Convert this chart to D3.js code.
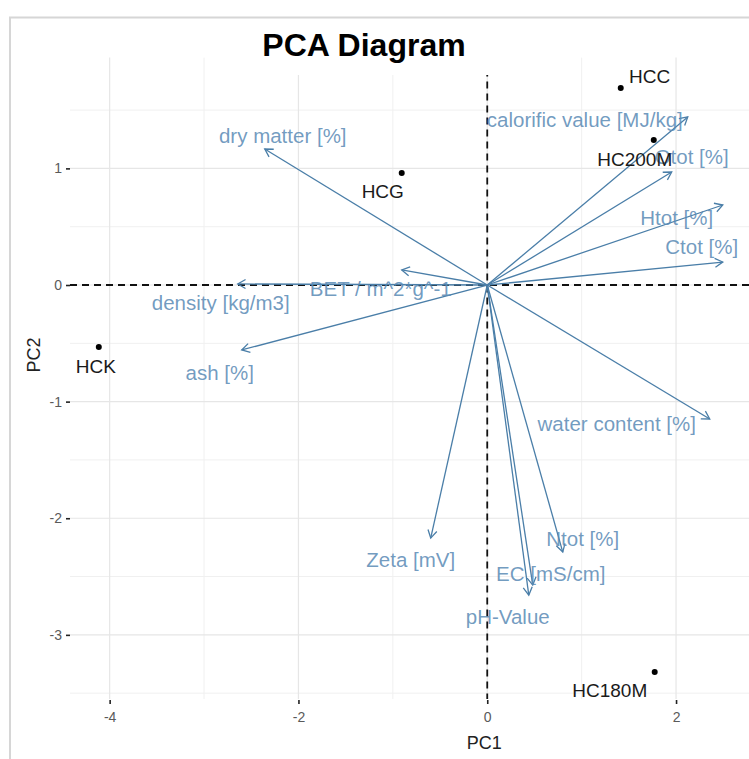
<!DOCTYPE html>
<html>
<head>
<meta charset="utf-8">
<script src="https://cdn.jsdelivr.net/npm/d3@7"></script>
<style>
  html, body { margin: 0; padding: 0; background: #ffffff; }
  svg { display: block; font-family: "Liberation Sans", Arial, sans-serif; }
</style>
</head>
<body>
<svg id="chart" width="749" height="759"></svg>
<script>
// ---- data ----
const sampleNames = ["HCC", "HC200M", "HCG", "HCK", "HC180M"];
const samplePC1 = [1.414, 1.764, -0.906, -4.115, 1.774];
const samplePC2 = [1.690, 1.244, 0.961, -0.532, -3.319];
const sampleLabelPC1 = [1.721, 1.563, -1.107, -4.147, 1.298];
const sampleLabelPC2 = [1.784, 1.072, 0.798, -0.703, -3.473];

const varNames = ["calorific value [MJ/kg]", "Otot [%]", "Htot [%]", "Ctot [%]",
  "water content [%]", "Ntot [%]", "EC [mS/cm]", "pH-Value", "Zeta [mV]",
  "ash [%]", "density [kg/m3]", "BET / m^2*g^-1", "dry matter [%]"];
const varPC1 = [2.124, 1.954, 2.495, 2.495, 2.357, 0.800, 0.482, 0.440, -0.599, -2.601, -2.643, -0.906, -2.357];
const varPC2 = [1.441, 0.969, 0.686, 0.197, -1.149, -2.290, -2.573, -2.659, -2.170, -0.557, 0.009, 0.129, 1.166];
const varLabelPC1 = [1.033, 2.166, 2.007, 2.272, 1.372, 1.012, 0.673, 0.217, -0.810, -2.834, -2.823, -1.128, -2.166];
const varLabelPC2 = [1.415, 1.098, 0.583, 0.326, -1.184, -2.178, -2.470, -2.839, -2.358, -0.746, -0.154, -0.034, 1.286];

const xTicks = [-4, -2, 0, 2];
const xMinor = [-3, -1, 1];
const yTicks = [-3, -2, -1, 0, 1];
const yMinor = [-3.5, -2.5, -1.5, -0.5, 0.5, 1.5];

const titleText = "PCA Diagram";
const xTitle = "PC1";
const yTitle = "PC2";

// ---- layout ----
const svg = d3.select("#chart");
const panel = { left: 70, top: 57.6, bottom: 699 };
const x = d3.scaleLinear().domain([-4.42, 2.9]).range([panel.left, panel.left + 7.32 * 94.4]);
const y = d3.scaleLinear().domain([-3.55, 1.95]).range([panel.bottom, panel.top]);
const panelRight = 760;

// outer frame
svg.append("rect").attr("x", 10).attr("y", 17.5).attr("width", 800).attr("height", 800)
  .attr("fill", "#fff").attr("stroke", "#d6d6d6").attr("stroke-width", 2);

const grid = svg.append("g");
grid.selectAll(".ymin").data(yMinor).join("line")
  .attr("x1", panel.left).attr("x2", panelRight)
  .attr("y1", d => y(d)).attr("y2", d => y(d))
  .attr("stroke", "#f0f0f0").attr("stroke-width", 1);
grid.selectAll(".xmin").data(xMinor).join("line")
  .attr("y1", panel.top).attr("y2", panel.bottom)
  .attr("x1", d => x(d)).attr("x2", d => x(d))
  .attr("stroke", "#f0f0f0").attr("stroke-width", 1);
grid.selectAll(".ymaj").data(yTicks).join("line")
  .attr("x1", panel.left).attr("x2", panelRight)
  .attr("y1", d => y(d)).attr("y2", d => y(d))
  .attr("stroke", "#e6e6e6").attr("stroke-width", 1.2);
grid.selectAll(".xmaj").data(xTicks).join("line")
  .attr("y1", panel.top).attr("y2", panel.bottom)
  .attr("x1", d => x(d)).attr("x2", d => x(d))
  .attr("stroke", "#e6e6e6").attr("stroke-width", 1.2);

// axes
const xAxis = d3.axisBottom(x).tickValues(xTicks).tickSize(4).tickPadding(8).tickFormat(d3.format("d"));
const gx = svg.append("g").attr("transform", `translate(0,${panel.bottom + 1})`).call(xAxis);
gx.select(".domain").remove();
gx.selectAll(".tick line").attr("stroke", "#222").attr("stroke-width", 1.6);
gx.selectAll(".tick text").attr("fill", "#5a5a5a").attr("font-size", 14)
  .attr("font-family", "Liberation Sans, Arial, sans-serif").text(d => d < 0 ? "-" + Math.abs(d) : d);

const yAxis = d3.axisLeft(y).tickValues(yTicks).tickSize(4).tickPadding(4).tickFormat(d3.format("d"));
const gy = svg.append("g").attr("transform", `translate(${panel.left},0)`).call(yAxis);
gy.select(".domain").remove();
gy.selectAll(".tick line").attr("stroke", "#222").attr("stroke-width", 1.6);
gy.selectAll(".tick text").attr("fill", "#5a5a5a").attr("font-size", 14)
  .attr("font-family", "Liberation Sans, Arial, sans-serif").text(d => d < 0 ? "-" + Math.abs(d) : d);

// dashed reference lines
svg.append("line").attr("x1", panel.left).attr("x2", panelRight)
  .attr("y1", y(0)).attr("y2", y(0))
  .attr("stroke", "#111").attr("stroke-width", 1.8).attr("stroke-dasharray", "7,5");
svg.append("line").attr("x1", x(0)).attr("x2", x(0))
  .attr("y1", panel.top).attr("y2", panel.bottom)
  .attr("stroke", "#111").attr("stroke-width", 1.8).attr("stroke-dasharray", "7,5");

// arrows
const arrowColor = "#4a7ea8";
const ag = svg.append("g").attr("stroke", arrowColor).attr("stroke-width", 1.3).attr("fill", "none");
varNames.forEach((n, i) => {
  const x0 = x(0), y0 = y(0), x1 = x(varPC1[i]), y1 = y(varPC2[i]);
  const ang = Math.atan2(y1 - y0, x1 - x0);
  const L = 9, a = Math.PI / 6;
  const p1 = [x1 - L * Math.cos(ang - a), y1 - L * Math.sin(ang - a)];
  const p2 = [x1 - L * Math.cos(ang + a), y1 - L * Math.sin(ang + a)];
  ag.append("line").attr("x1", x0).attr("y1", y0).attr("x2", x1).attr("y2", y1);
  ag.append("path").attr("d", `M${p1[0]},${p1[1]}L${x1},${y1}L${p2[0]},${p2[1]}`);
});

// variable labels
svg.append("g").selectAll("text").data(varNames).join("text")
  .attr("x", (d, i) => x(varLabelPC1[i])).attr("y", (d, i) => y(varLabelPC2[i]))
  .attr("text-anchor", "middle").attr("dominant-baseline", "central")
  .attr("font-size", 20.5).attr("fill", "#5a8ab5").attr("fill-opacity", 0.85)
  .text(d => d);

// sample points
svg.append("g").selectAll("circle").data(sampleNames).join("circle")
  .attr("cx", (d, i) => x(samplePC1[i])).attr("cy", (d, i) => y(samplePC2[i]))
  .attr("r", 3).attr("fill", "#000");
svg.append("g").selectAll("text").data(sampleNames).join("text")
  .attr("x", (d, i) => x(sampleLabelPC1[i])).attr("y", (d, i) => y(sampleLabelPC2[i]))
  .attr("text-anchor", "middle").attr("dominant-baseline", "central")
  .attr("font-size", 19).attr("fill", "#1a1a1a")
  .text(d => d);

// title box and title
svg.append("rect").attr("x", 245).attr("y", 20).attr("width", 265).attr("height", 55).attr("fill", "#fff");
svg.append("text").attr("x", 364).attr("y", 45).attr("text-anchor", "middle")
  .attr("dominant-baseline", "central").attr("font-size", 32).attr("font-weight", "bold")
  .attr("fill", "#000").text(titleText);

// axis titles
svg.append("text").attr("x", x(0) - 3).attr("y", 743).attr("text-anchor", "middle")
  .attr("dominant-baseline", "central").attr("font-size", 18).attr("fill", "#222").text(xTitle);
svg.append("text").attr("transform", `translate(34,${y(-0.6)}) rotate(-90)`).attr("text-anchor", "middle")
  .attr("dominant-baseline", "central").attr("font-size", 18).attr("fill", "#222").text(yTitle);
</script>
</body>
</html>
